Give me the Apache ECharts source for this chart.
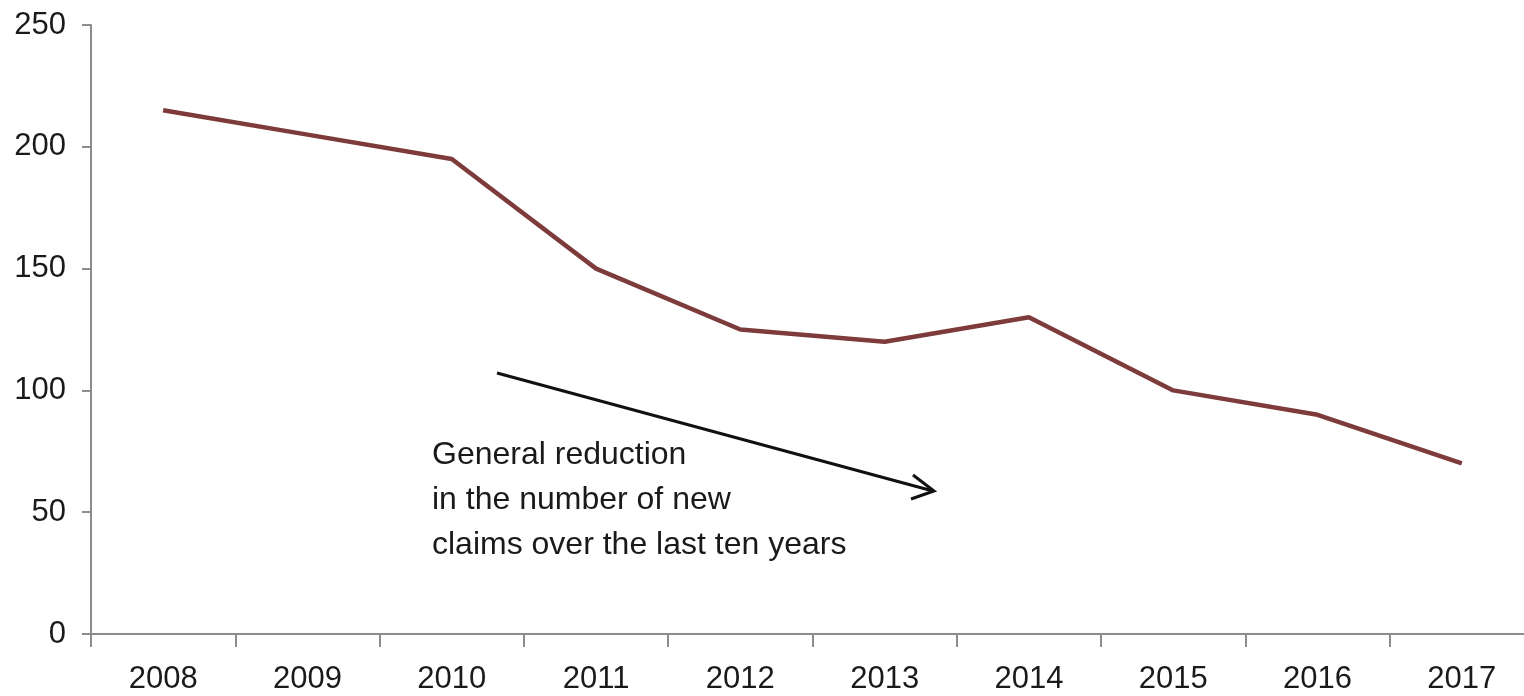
<!DOCTYPE html>
<html>
<head>
<meta charset="utf-8">
<script src="https://cdn.jsdelivr.net/npm/echarts@6/dist/echarts.min.js"></script>
<style>
  html, body { margin: 0; padding: 0; background: #fff; }
  #chart { width: 1524px; height: 696px; }
</style>
</head>
<body>
<div id="chart"></div>
<script>
const years = ['2008', '2009', '2010', '2011', '2012', '2013', '2014', '2015', '2016', '2017'];
const claims = [215, 205, 195, 150, 125, 120, 130, 100, 90, 70];
const yTicks = { min: 0, max: 250, interval: 50 };
const note = ['General reduction', 'in the number of new', 'claims over the last ten years'];

const font = "'Liberation Sans Narrow', 'Arial Narrow', 'Liberation Sans', sans-serif";
const axisGrey = '#8c8c8c';

var chart = echarts.init(document.getElementById('chart'));
chart.setOption({
  animation: false,
  textStyle: { fontFamily: font },
  grid: { left: 91, top: 25, bottom: 62, right: -10, outerBoundsMode: 'none', containLabel: false },
  xAxis: {
    type: 'category',
    data: years,
    boundaryGap: true,
    axisLine: { lineStyle: { color: axisGrey, width: 2 } },
    axisTick: { show: true, alignWithLabel: false, interval: 0, length: 13, lineStyle: { color: axisGrey, width: 2 } },
    axisLabel: { color: '#1a1a1a', fontSize: 31, margin: 30, fontFamily: font }
  },
  yAxis: {
    type: 'value',
    min: yTicks.min,
    max: yTicks.max,
    interval: yTicks.interval,
    splitLine: { show: false },
    axisLine: { show: true, lineStyle: { color: axisGrey, width: 2 } },
    axisTick: { show: true, length: 9, lineStyle: { color: axisGrey, width: 2 } },
    axisLabel: { color: '#1a1a1a', fontSize: 31, margin: 25, fontFamily: font }
  },
  series: [{
    type: 'line',
    data: claims,
    symbol: 'none',
    lineStyle: { color: '#7e3b3b', width: 4.5 }
  }],
  graphic: [
    {
      type: 'line',
      shape: { x1: 497, y1: 373, x2: 933, y2: 491 },
      style: { stroke: '#111', lineWidth: 3 }
    },
    {
      type: 'polyline',
      shape: { points: [[913, 475], [934, 491], [911, 499]] },
      style: { stroke: '#111', lineWidth: 3, fill: null }
    },
    {
      type: 'text',
      left: 432,
      top: 433,
      style: {
        text: note.join('\n'),
        fontSize: 32,
        lineHeight: 45,
        fill: '#1a1a1a',
        fontFamily: font
      }
    }
  ]
});
</script>
</body>
</html>
